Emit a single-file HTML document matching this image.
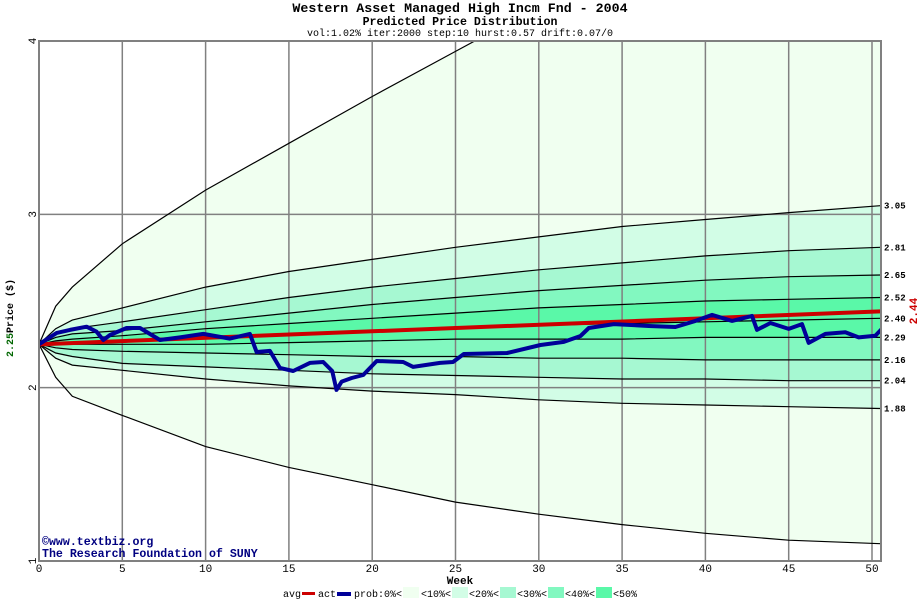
<!DOCTYPE html>
<html><head><meta charset="utf-8"><style>
html,body{margin:0;padding:0;background:#fff;}
svg{display:block;font-family:"Liberation Mono",monospace;}
</style></head><body>
<svg id="chart" width="920" height="600" viewBox="0 0 920 600" xmlns="http://www.w3.org/2000/svg">
<text x="460" y="12" text-anchor="middle" font-size="13.3" font-weight="bold">Western Asset Managed High Incm Fnd - 2004</text>
<text x="460" y="25" text-anchor="middle" font-size="11.6" font-weight="bold">Predicted Price Distribution</text>
<text x="460" y="36" text-anchor="middle" font-size="10">vol:1.02% iter:2000 step:10 hurst:0.57 drift:0.07/0</text>
<g id="plot"></g>
<text transform="translate(13,306) rotate(-90)" text-anchor="middle" font-size="10" font-weight="bold">Price ($)</text>
<text transform="translate(13,345) rotate(-90)" text-anchor="middle" font-size="10" font-weight="bold" fill="#006600">2.25</text>
<text transform="translate(917,311) rotate(-90)" text-anchor="middle" font-size="11" font-weight="bold" fill="#cc0000">2.44</text>
<text x="460" y="584" text-anchor="middle" font-size="11" font-weight="bold">Week</text>
<text x="42" y="545" font-size="11.6" font-weight="bold" fill="#000080">©www.textbiz.org</text>
<text x="42" y="557" font-size="11.6" font-weight="bold" fill="#000080">The Research Foundation of SUNY</text>
<g id="legend" font-size="10">
<text x="283" y="597">avg</text>
<rect x="302" y="592" width="13" height="3" fill="#cc0000"/>
<text x="318" y="597">act</text>
<rect x="337" y="592" width="14" height="4" fill="#000099"/>
<text x="354" y="597">prob:0%&lt;</text>
<rect x="403" y="587" width="16" height="11" fill="#f0fff0"/>
<text x="421" y="597">&lt;10%&lt;</text>
<rect x="452" y="587" width="16" height="11" fill="#d2fde6"/>
<text x="469" y="597">&lt;20%&lt;</text>
<rect x="500" y="587" width="16" height="11" fill="#a6f8d2"/>
<text x="517" y="597">&lt;30%&lt;</text>
<rect x="548" y="587" width="16" height="11" fill="#82f8c0"/>
<text x="565" y="597">&lt;40%&lt;</text>
<rect x="596" y="587" width="16" height="11" fill="#5af8a8"/>
<text x="613" y="597">&lt;50%</text>
</g>
</svg>
<script>
const weeks = [0,1,2,5,10,15,20,25,30,35,40,45,50.5];
const bandTop0 = [2.25,2.47,2.58,2.83,3.14,3.41,3.68,3.94,4.2,4.45,4.7,4.9,5.1];
const bandTop1 = [2.25,2.34,2.39,2.46,2.58,2.67,2.74,2.81,2.87,2.93,2.97,3.01,3.05];
const bandTop2 = [2.25,2.31,2.34,2.38,2.45,2.52,2.58,2.63,2.68,2.72,2.76,2.79,2.81];
const bandTop3 = [2.25,2.29,2.31,2.33,2.38,2.43,2.48,2.52,2.56,2.59,2.62,2.64,2.65];
const bandTop4 = [2.25,2.27,2.28,2.30,2.34,2.37,2.40,2.43,2.46,2.48,2.50,2.51,2.52];
const bandMid  = [2.25,2.26,2.26,2.27,2.29,2.31,2.33,2.35,2.36,2.37,2.38,2.39,2.40];
const bandBot4 = [2.25,2.25,2.25,2.25,2.25,2.26,2.27,2.28,2.28,2.28,2.29,2.29,2.29];
const bandBot3 = [2.25,2.23,2.22,2.21,2.20,2.19,2.18,2.18,2.17,2.17,2.16,2.16,2.16];
const bandBot2 = [2.25,2.20,2.18,2.14,2.12,2.10,2.08,2.07,2.06,2.05,2.05,2.04,2.04];
const bandBot1 = [2.25,2.17,2.13,2.10,2.05,2.01,1.98,1.96,1.93,1.91,1.90,1.89,1.88];
const bandBot0 = [2.25,2.06,1.95,1.84,1.66,1.54,1.44,1.34,1.27,1.21,1.16,1.12,1.10];
const endLabels = ["3.05","2.81","2.65","2.52","2.40","2.29","2.16","2.04","1.88"];
const avgWeeks = [0,50.5];
const avgPrices = [2.25,2.44];
const actWeeks = [0,1.06,1.86,2.86,3.46,3.86,4.26,5.26,6.06,7.26,8.46,9.86,11.46,12.66,13.06,13.86,14.46,15.26,16.26,17.06,17.6,17.86,18.17,18.77,19.46,20.27,21.86,22.46,24.07,24.85,25.5,28.1,30.1,31.5,32.5,33.0,34.5,36.6,38.2,39.4,40.4,41.6,42.8,43.1,43.9,45.0,45.8,46.2,47.2,48.4,49.2,50.2,50.6];
const actPrices = [2.25,2.316,2.333,2.352,2.323,2.275,2.304,2.344,2.344,2.275,2.29,2.31,2.283,2.31,2.206,2.212,2.114,2.096,2.143,2.148,2.096,1.987,2.035,2.056,2.073,2.154,2.148,2.12,2.143,2.148,2.194,2.20,2.246,2.264,2.298,2.344,2.367,2.356,2.35,2.385,2.42,2.385,2.414,2.333,2.373,2.339,2.367,2.258,2.31,2.32,2.29,2.30,2.34];
const xTicks = [0,5,10,15,20,25,30,35,40,45,50];
const yTicks = [1,2,3,4];

const NS="http://www.w3.org/2000/svg";
const X0=39,X1=881,Y0=41,Y1=561;
const xs=w=>X0+w*16.66;
const ys=p=>Y1-(p-1)*(Y1-Y0)/3;
const plot=document.getElementById('plot');
function mk(tag,attrs,parent){const e=document.createElementNS(NS,tag);for(const k in attrs)e.setAttribute(k,attrs[k]);(parent||plot).appendChild(e);return e;}

const defs=mk('defs',{});
const cp=mk('clipPath',{id:'clip'},defs);
mk('rect',{x:X0,y:Y0,width:X1-X0,height:Y1-Y0},cp);
const g=mk('g',{'clip-path':'url(#clip)'});


const bg=mk('rect',{x:X0,y:Y0,width:X1-X0,height:Y1-Y0,fill:'#fff'},g);



const curves=[bandTop0,bandTop1,bandTop2,bandTop3,bandTop4,bandMid,bandBot4,bandBot3,bandBot2,bandBot1,bandBot0];
const colors=['#f0fff0','#d2fde6','#a6f8d2','#82f8c0','#5af8a8','#5af8a8','#82f8c0','#a6f8d2','#d2fde6','#f0fff0'];
function pts(arr){return weeks.map((w,i)=>xs(w).toFixed(1)+','+ys(arr[i]).toFixed(1));}
for(let i=0;i<curves.length-1;i++){
  const a=pts(curves[i]), b=pts(curves[i+1]).reverse();
  const p=mk('polygon',{points:a.concat(b).join(' '),fill:colors[i]},g);
  
  
}
xTicks.forEach(t=>{if(t===0)return;const l=mk('line',{x1:xs(t),x2:xs(t),y1:Y0,y2:Y1,stroke:'#808080','stroke-width':1.5},g);

});
yTicks.forEach(t=>{if(t===1||t===4)return;const l=mk('line',{x1:X0,x2:X1,y1:ys(t),y2:ys(t),stroke:'#808080','stroke-width':1.5},g);

});
curves.forEach((c,i)=>{const l=mk('polyline',{points:pts(c).join(' '),fill:'none',stroke:'#000','stroke-width':1.2},g);

});
const avg=mk('polyline',{points:avgWeeks.map((w,i)=>xs(w)+','+ys(avgPrices[i])).join(' '),fill:'none',stroke:'#cc0000','stroke-width':4},g);


const act=mk('polyline',{points:actWeeks.map((w,i)=>xs(w).toFixed(1)+','+ys(actPrices[i]).toFixed(1)).join(' '),fill:'none',stroke:'#000099','stroke-width':4,'stroke-linejoin':'round'},g);



const fr=mk('rect',{x:X0,y:Y0,width:X1-X0,height:Y1-Y0,fill:'none',stroke:'#808080','stroke-width':2});


const lastIdx=weeks.length-1;
endLabels.forEach((s,i)=>{const t=mk('text',{x:884,y:ys(curves[i+1][lastIdx])+3,'font-size':9,'font-weight':'bold'});t.textContent=s;

});
xTicks.forEach(v=>{const t=mk('text',{x:xs(v),y:572,'font-size':11,'text-anchor':'middle'});t.textContent=v;

});
yTicks.forEach(v=>{const t=mk('text',{transform:'translate(36,'+ys(v)+') rotate(-90)','font-size':11,'text-anchor':'middle'});t.textContent=v;

});
</script>
</body></html>
